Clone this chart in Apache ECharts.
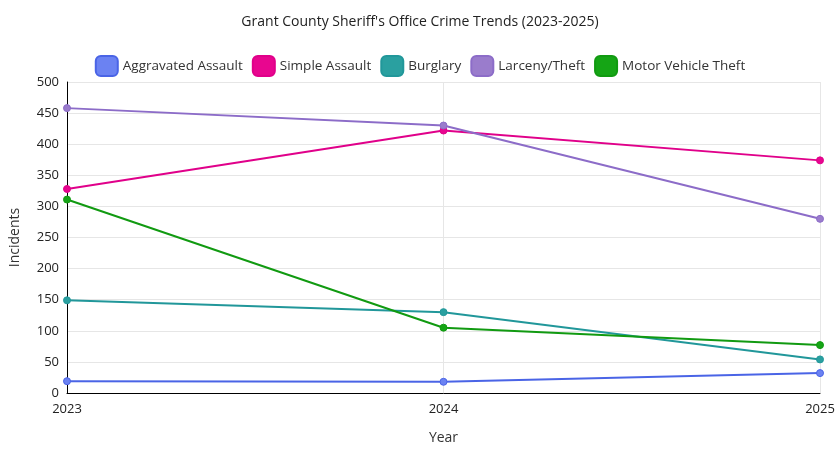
<!DOCTYPE html>
<html><head><meta charset="utf-8">
<script src="https://cdn.jsdelivr.net/npm/echarts@6/dist/echarts.min.js"></script>
<style>html,body{margin:0;padding:0;background:#fff}#c{width:840px;height:454px}</style>
</head><body><div id="c"></div>
<script>
const years = ['2023','2024','2025'];
const seriesNames = ['Aggravated Assault','Simple Assault','Burglary','Larceny/Theft','Motor Vehicle Theft'];
const aggravated = [19, 18, 32];
const simple = [328, 422, 374];
const burglary = [149, 130, 54];
const larceny = [458, 430, 280];
const mvt = [311, 105, 77];
const colors = ['#4a64e6','#e0008a','#21979a','#8c6cc8','#119a11'];
const fills = ['#6b82f2','#e8068f','#2aa0a0','#9a7ccc','#15a515'];
const values = [aggravated, simple, burglary, larceny, mvt];
const chart = echarts.init(document.getElementById('c'));
const font = 'Open Sans';
chart.setOption({
  textStyle:{fontFamily:font},
  title:{text:"Grant County Sheriff's Office Crime Trends (2023-2025)",left:'center',top:10,
    textStyle:{fontSize:14,fontWeight:'normal',color:'#222',fontFamily:font}},
  legend:{top:50,itemWidth:22,itemHeight:20,itemGap:9,icon:'roundRect',
    textStyle:{fontSize:13.5,color:'#333',fontFamily:font},
    data:seriesNames},
  grid:{left:67,right:20,top:82,bottom:61},
  xAxis:{type:'category',data:years,boundaryGap:false,name:'Year',nameLocation:'middle',nameGap:38,
    nameTextStyle:{fontSize:14,color:'#333'},
    axisLine:{lineStyle:{color:'#000'}},axisTick:{show:false},
    axisLabel:{fontSize:13,color:'#222',margin:10},
    splitLine:{show:true,lineStyle:{color:'#e6e6e6'}}},
  yAxis:{type:'value',min:0,max:500,interval:50,name:'Incidents',nameLocation:'middle',nameGap:45,
    nameTextStyle:{fontSize:14,color:'#333'},
    axisLine:{show:true,lineStyle:{color:'#000'}},axisTick:{show:false},
    axisLabel:{fontSize:13,color:'#222'},
    splitLine:{lineStyle:{color:'#e6e6e6'}}},
  series:seriesNames.map((n,i)=>({name:n,type:'line',data:values[i],symbol:'circle',symbolSize:7,
    lineStyle:{width:2,color:colors[i]},itemStyle:{color:fills[i],borderColor:colors[i],borderWidth:1}}))
});
</script></body></html>
